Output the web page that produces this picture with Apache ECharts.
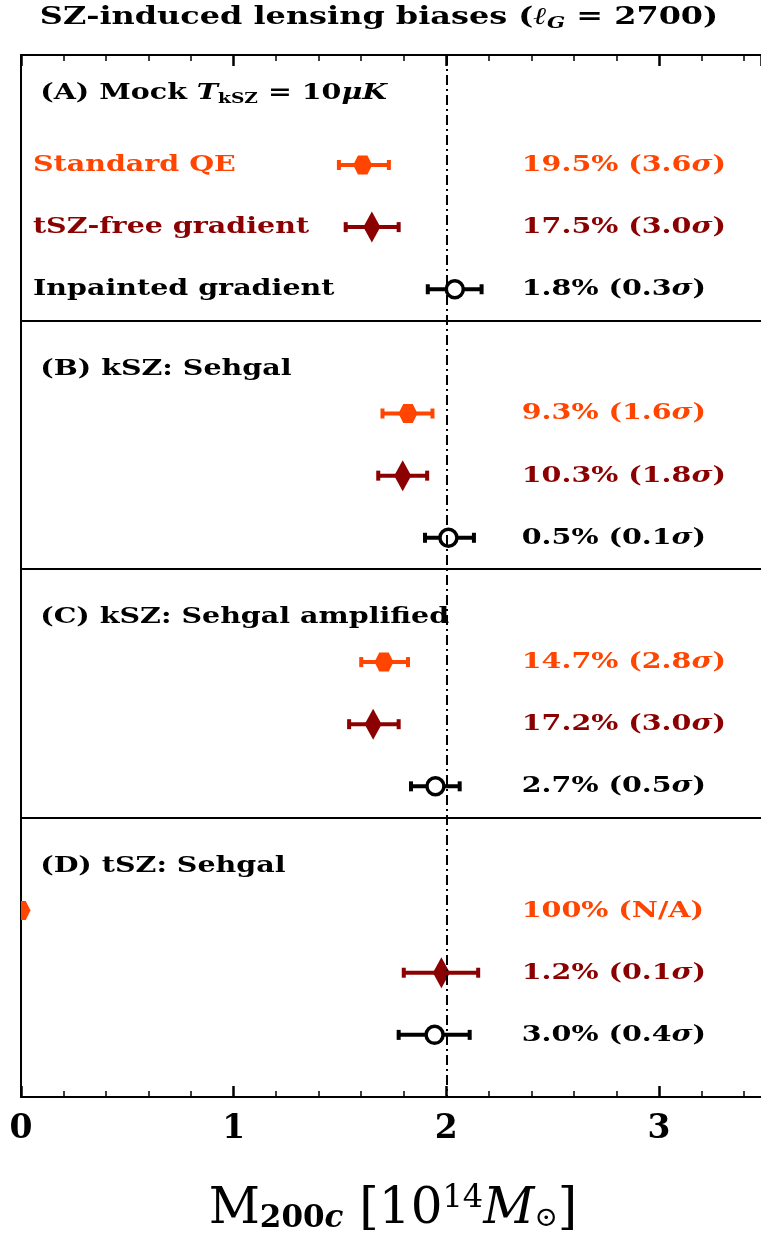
<!DOCTYPE html>
<html>
<head>
<meta charset="utf-8">
<script src="https://cdn.jsdelivr.net/npm/echarts@6/dist/echarts.min.js"></script>
<style>
  html, body { margin: 0; padding: 0; background: #fff; }
  #main { width: 761px; height: 1233px; }
</style>
</head>
<body>
<div id="main"></div>
<script>
// 数据
var panelTitles = [
  '(A) Mock {it|T}{sub|kSZ} = 10{it|μK}',
  '(B) kSZ: Sehgal',
  '(C) kSZ: Sehgal amplified',
  '(D) tSZ: Sehgal'
];
var methodNames = ['Standard QE', 'tSZ-free gradient', 'Inpainted gradient'];
var methodColors = ['#ff4500', '#8b0000', '#000000'];

// M200c 的中心值和误差范围（每个面板一个）
var qeMass   = [1.607, 1.82, 1.707, 0];
var qeLo     = [1.495, 1.70, 1.60, null];
var qeHi     = [1.73, 1.935, 1.82, null];
var tszMass  = [1.65, 1.795, 1.656, 1.977];
var tszLo    = [1.527, 1.68, 1.543, 1.80];
var tszHi    = [1.776, 1.91, 1.776, 2.15];
var inpMass  = [2.04, 2.01, 1.949, 1.945];
var inpLo    = [1.913, 1.90, 1.834, 1.776];
var inpHi    = [2.166, 2.13, 2.063, 2.11];

var qeBias  = ['19.5% (3.6{it|σ})', '9.3% (1.6{it|σ})', '14.7% (2.8{it|σ})', '100% (N/A)'];
var tszBias = ['17.5% (3.0{it|σ})', '10.3% (1.8{it|σ})', '17.2% (3.0{it|σ})', '1.2% (0.1{it|σ})'];
var inpBias = ['1.8% (0.3{it|σ})', '0.5% (0.1{it|σ})', '2.7% (0.5{it|σ})', '3.0% (0.4{it|σ})'];

var trueMass = 2;
var xTicks = [0, 1, 2, 3];

var FONT = 'DejaVu Serif';
var TEXT_SX = 1.24;   // 模拟 Computer Modern 粗体加宽

function rowY(panel, k) { return panel * 4 + k + 1; }

var markerData = [[], [], []];
var errData = [[], [], []];
var allMass = [qeMass, tszMass, inpMass];
var allLo = [qeLo, tszLo, inpLo];
var allHi = [qeHi, tszHi, inpHi];
for (var p = 0; p < 4; p++) {
  for (var k = 0; k < 3; k++) {
    markerData[k].push([allMass[k][p], rowY(p, k)]);
    if (allLo[k][p] != null) errData[k].push([allLo[k][p], allHi[k][p], rowY(p, k)]);
  }
}

// 文字：左侧方法名（仅面板A）、面板标题、右侧偏差
var textItems = [];
for (var p = 0; p < 4; p++) {
  textItems.push({ value: [0.09, p === 0 ? -0.16 : p * 4 + 0.28], text: panelTitles[p], color: '#000' });
  var biases = [qeBias[p], tszBias[p], inpBias[p]];
  for (var k = 0; k < 3; k++) {
    textItems.push({ value: [2.355, rowY(p, k)], text: biases[k], color: methodColors[k] });
  }
}
for (var k = 0; k < 3; k++) {
  textItems.push({ value: [0.056, rowY(0, k)], text: methodNames[k], color: methodColors[k] });
}

var chart = echarts.init(document.getElementById('main'));

function errRender(color) {
  return function (params, api) {
    var y = api.value(2);
    var a = api.coord([api.value(0), y]);
    var b = api.coord([api.value(1), y]);
    var st = { stroke: color, lineWidth: 4 };
    return {
      type: 'group',
      children: [
        { type: 'line', shape: { x1: a[0], y1: a[1], x2: b[0], y2: b[1] }, style: st },
        { type: 'line', shape: { x1: a[0], y1: a[1] - 5, x2: a[0], y2: a[1] + 5 }, style: st },
        { type: 'line', shape: { x1: b[0], y1: b[1] - 5, x2: b[0], y2: b[1] + 5 }, style: st }
      ]
    };
  };
}

// 六边形标记（尖角朝左右），用 custom 以便被坐标系裁剪
function hexRender(params, api) {
  var c = api.coord([api.value(0), api.value(1)]);
  var w = 9.5, h = 9.5;
  return {
    type: 'polygon',
    shape: { points: [
      [c[0] - w, c[1]], [c[0] - w / 2, c[1] - h], [c[0] + w / 2, c[1] - h],
      [c[0] + w, c[1]], [c[0] + w / 2, c[1] + h], [c[0] - w / 2, c[1] + h]
    ] },
    style: { fill: methodColors[0] }
  };
}

var option = {
  animation: false,
  backgroundColor: '#fff',
  graphic: [{
    type: 'text', x: 379, y: 18, scaleX: 1.33,
    style: {
      text: 'SZ-induced lensing biases ({it|ℓ}{sub|G} = 2700)',
      font: 'bold 24px "' + FONT + '"', fill: '#000',
      align: 'center', verticalAlign: 'middle',
      rich: {
        it: { fontFamily: FONT, fontSize: 24, fontWeight: 'bold', fontStyle: 'italic', fill: '#000' },
        sub: { fontFamily: FONT, fontSize: 16, fontWeight: 'bold', fontStyle: 'italic', fill: '#000', padding: [12, 0, 0, 0] }
      }
    }
  }],
  grid: { left: 21, right: 0, top: 55, bottom: 136, outerBoundsMode: 'none', containLabel: false },
  xAxis: [{
    type: 'value', min: 0, max: 3.48, interval: 1,
    axisLine: { show: true, onZero: false, lineStyle: { color: '#000', width: 2 } },
    axisTick: { show: true, inside: true, length: 11, lineStyle: { color: '#000', width: 2.5 }, customValues: xTicks },
    minorTick: { show: true, splitNumber: 5, length: 6, lineStyle: { color: '#000', width: 1.5 } },
    splitLine: { show: false },
    axisLabel: {
      customValues: xTicks,
      fontFamily: FONT, fontSize: 33, fontWeight: 'bold', color: '#000', margin: 16
    },
    name: 'M{sub|200}{subi|c} [10{sup|14}{it|M}{sun|⊙}]',
    nameLocation: 'middle',
    nameGap: 86,
    nameTextStyle: {
      fontFamily: FONT, fontSize: 50, color: '#000', padding: [0, 0, 0, 4],
      rich: {
        sub: { fontFamily: FONT, fontSize: 31, fontWeight: 'bold', color: '#000', padding: [18, 0, 0, 0] },
        subi: { fontFamily: FONT, fontSize: 31, fontWeight: 'bold', fontStyle: 'italic', color: '#000', padding: [18, 0, 0, 0] },
        sup: { fontFamily: FONT, fontSize: 32, color: '#000', padding: [0, 0, 22, 0] },
        it: { fontFamily: FONT, fontSize: 50, fontStyle: 'italic', color: '#000' },
        sun: { fontFamily: FONT, fontSize: 28, color: '#000', padding: [18, 0, 0, 0] }
      }
    }
  }, {
    type: 'value', position: 'top', min: 0, max: 3.48, interval: 1,
    axisLine: { show: true, onZero: false, lineStyle: { color: '#000', width: 2 } },
    axisTick: { show: true, inside: true, length: 11, lineStyle: { color: '#000', width: 2.5 } },
    minorTick: { show: true, splitNumber: 5, length: 6, lineStyle: { color: '#000', width: 1.5 } },
    splitLine: { show: false },
    axisLabel: { show: false }
  }],
  yAxis: {
    type: 'value', min: -0.77, max: 16, inverse: true,
    axisLine: { show: true, onZero: false, lineStyle: { color: '#000', width: 2 } },
    axisTick: { show: false },
    axisLabel: { show: false },
    splitLine: { show: false }
  },
  series: [
    {
      type: 'custom', name: 'errQE', renderItem: errRender(methodColors[0]), data: errData[0], z: 3,
      markLine: {
        silent: true, symbol: 'none', label: { show: false },
        lineStyle: { color: '#000', width: 2, type: 'solid' },
        data: [{ yAxis: 3.5 }, { yAxis: 7.5 }, { yAxis: 11.5 }]
      }
    },
    {
      type: 'custom', name: 'errTSZ', renderItem: errRender(methodColors[1]), data: errData[1], z: 3,
      markLine: {
        silent: true, symbol: 'none', label: { show: false },
        lineStyle: { color: '#000', width: 2, type: [10, 4, 2, 4] },
        data: [{ xAxis: trueMass }]
      }
    },
    { type: 'custom', name: 'errInp', renderItem: errRender(methodColors[2]), data: errData[2], z: 3 },
    {
      type: 'custom', name: 'Standard QE', data: markerData[0], renderItem: hexRender, clip: true, z: 4
    },
    {
      type: 'scatter', name: 'tSZ-free gradient', data: markerData[1], symbol: 'diamond', symbolSize: [17, 31],
      itemStyle: { color: methodColors[1], opacity: 1 }, z: 4
    },
    {
      type: 'scatter', name: 'Inpainted gradient', data: markerData[2], symbol: 'circle', symbolSize: 17,
      itemStyle: { color: '#fff', borderColor: '#000', borderWidth: 3.5, opacity: 1 }, z: 4
    },
    {
      type: 'custom', name: 'texts', data: textItems, z: 5, silent: true,
      renderItem: function (params, api) {
        var item = textItems[params.dataIndex];
        var pt = api.coord([api.value(0), api.value(1)]);
        return {
          type: 'text', x: pt[0], y: pt[1], scaleX: TEXT_SX,
          style: {
            text: item.text, fill: item.color,
            font: 'bold 23px "' + FONT + '"',
            align: 'left', verticalAlign: 'middle',
            rich: {
              it: { fontFamily: FONT, fontSize: 23, fontWeight: 'bold', fontStyle: 'italic', fill: item.color },
              sub: { fontFamily: FONT, fontSize: 15, fontWeight: 'bold', fill: item.color, padding: [12, 0, 0, 0] }
            }
          }
        };
      }
    }
  ]
};

chart.setOption(option);
</script>
</body>
</html>
